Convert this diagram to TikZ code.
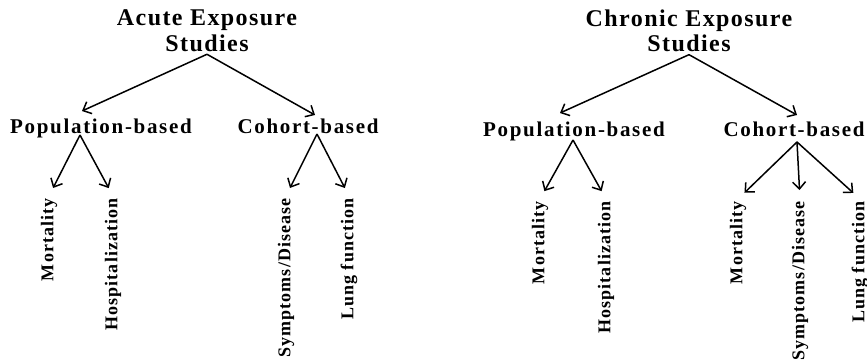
\documentclass[tikz,border=0pt]{standalone}
\usepackage{fontspec}
\setmainfont{Liberation Serif}
\usetikzlibrary{arrows.meta}

\tikzset{
  studytitle/.style={font=\fontsize{12}{12.8}\selectfont\bfseries\addfontfeature{LetterSpace=6},
                     align=center, inner sep=1pt},
  design/.style={font=\fontsize{10.5}{11}\selectfont\bfseries\addfontfeature{LetterSpace=8},
                 anchor=base, inner sep=1pt},
  outcome/.style={font=\fontsize{9}{10}\selectfont\bfseries\addfontfeature{LetterSpace=6},
                  rotate=90, anchor=east, inner sep=1pt},
  arr/.style={-{Straight Barb[length=3.5pt,width=6.5pt]}, line width=0.75pt},
  leafarr/.style={arr, shorten >=4.5pt},
}

\begin{document}
\begin{tikzpicture}[x=0.5pt, y=-0.5pt]
        \useasboundingbox (0,0) rectangle (867,360);

        % acute exposure tree
        \node[studytitle] (acute) at (207,31) {Acute Exposure\\Studies};
        \node[design] (acpop) at (101,133) {Population-based};
        \node[design] (accoh) at (308,133) {Cohort-based};
        \coordinate (acpopin) at (82,111);
        \coordinate (acpopout) at (80,135);
        \coordinate (accohin) at (315,115);
        \coordinate (accohout) at (317,134);
        \node[outcome] (acmort) at (49,196) {Mortality};
        \node[outcome] (achosp) at (113,196) {Hospitalization};
        \node[outcome] (acsymp) at (286,196) {Symptoms/Disease};
        \node[outcome] (aclung) at (349,196) {Lung function};
        \draw[arr] (acute.south) -- (acpopin);
        \draw[arr] (acute.south) -- (accohin);
        \draw[leafarr] (acpopout) -- (acmort.east);
        \draw[leafarr] (acpopout) -- (achosp.east);
        \draw[leafarr] (accohout) -- (acsymp.east);
        \draw[leafarr] (accohout) -- (aclung.east);

        % chronic exposure tree
        \node[studytitle] (chronic) at (689,31) {Chronic Exposure\\Studies};
        \node[design] (chpop) at (574,136) {Population-based};
        \node[design] (chcoh) at (794,136) {Cohort-based};
        \coordinate (chpopin) at (560,113);
        \coordinate (chpopout) at (573,140);
        \coordinate (chcohin) at (797,115);
        \coordinate (chcohout) at (797,142);
        \node[outcome] (chmort) at (540,199) {Mortality};
        \node[outcome] (chhosp) at (606,199) {Hospitalization};
        \node[outcome] (chcmort) at (738,199) {Mortality};
        \node[outcome] (chsymp) at (800,199) {Symptoms/Disease};
        \node[outcome] (chlung) at (860,199) {Lung function};
        \draw[arr] (chronic.south) -- (chpopin);
        \draw[arr] (chronic.south) -- (chcohin);
        \draw[leafarr] (chpopout) -- (chmort.east);
        \draw[leafarr] (chpopout) -- (chhosp.east);
        \draw[leafarr] (chcohout) -- (chcmort.east);
        \draw[leafarr] (chcohout) -- (chsymp.east);
        \draw[leafarr] (chcohout) -- (chlung.east);
      \end{tikzpicture}
\end{document}
